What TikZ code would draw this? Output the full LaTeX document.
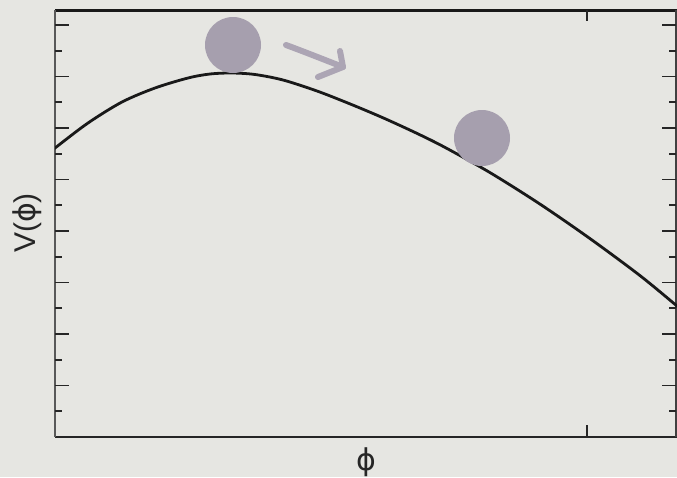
\documentclass[tikz,border=0pt]{standalone}
\usepackage{fontspec}
\setmainfont{Liberation Sans}
\newfontfamily\dvfont{DejaVu Sans}
\begin{document}
\begin{tikzpicture}[x=1pt,y=-1pt,
  frameline/.style={line width=2pt,draw=black!85},
  majtick/.style={line width=1.6pt,draw=black!85},
  ball/.style={circle,fill=ballc,inner sep=0pt,minimum size=56pt},
  lbl/.style={font=\fontsize{30}{30}\selectfont,text=black!85,inner sep=0pt}]
\definecolor{bgc}{RGB}{230,230,226}
\definecolor{ballc}{RGB}{166,159,174}
\definecolor{arrc}{RGB}{172,165,180}
\fill[bgc] (0,0) rectangle (677,477);
\useasboundingbox (0,0) rectangle (677,477);
% frame
\draw[line width=3pt,draw=black!90] (55,10) -- (677,10);
\draw[frameline] (55,437) -- (677,437);
\draw[line width=2pt,draw=black!65] (55,10) -- (55,437);
\draw[line width=2pt,draw=black!75] (676,10) -- (676,437);
% ticks left and right
\foreach \k in {1,...,16}{
  \pgfmathsetmacro{\yy}{437-\k*25.75}
  \pgfmathsetmacro{\len}{isodd(\k) ? 7 : 14}
  \draw[majtick] (55,\yy) -- ++(\len,0);
  \draw[majtick] (676,\yy) -- ++(-\len,0);
}
\draw[majtick] (587,437) -- (587,425);
\draw[majtick] (587,10) -- (587,21);
% curve
\begin{scope}
\clip (55,10) rectangle (677,437);
\draw[line width=2.8pt,black!90,line join=round] plot[smooth,tension=0.5] coordinates
 {(45,156) (55,148) (88,123) (122,102) (155,88) (188,78) (210,74) (232,73) (255,74.5) (283,80) (317,91) (350,103.9) (383,117.8) (417,133.4) (445,147.4) (490,172.6) (540,204.1) (590,238.6) (640,275.6) (677,306) (690,317)};
\end{scope}
% balls
\node[ball] (b1) at (233,45) {};
\node[ball] (b2) at (482,138) {};
% arrow
\draw[arrc,line width=6pt,line cap=round,line join=round] (286,45) .. controls (305,52) and (325,60) .. (343,67);
\draw[arrc,line width=6pt,line cap=round,line join=round] (340,51) -- (343,67) -- (318,77);
% labels
\node[lbl,rotate=90] (vl) at (27,223) {V(\dvfont ϕ\rmfamily)};
\node[lbl] (xl) at (366,462) {\dvfont ϕ};
\end{tikzpicture}
\end{document}
